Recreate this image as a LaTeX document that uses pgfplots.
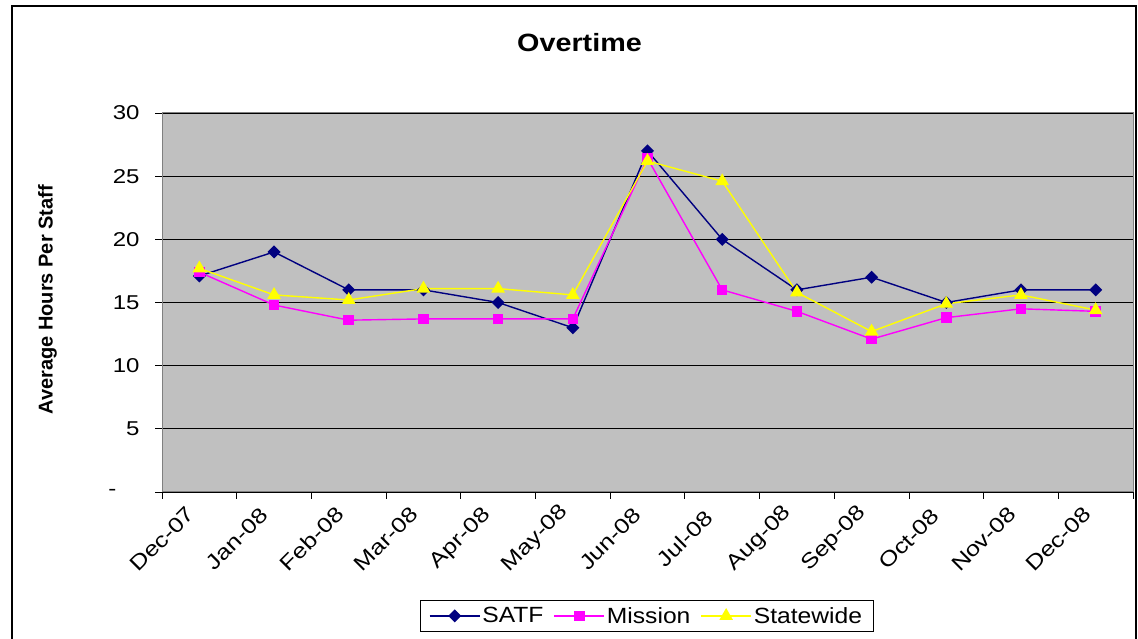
\documentclass[border=0pt]{standalone}
\usepackage{fontspec}
\setmainfont{Liberation Sans}
\newfontfamily\tickfont{Liberation Sans}[FakeStretch=1.2]
\newfontfamily\titlefont{Liberation Sans}[FakeStretch=1.15]
\newfontfamily\legfont{Liberation Sans}[FakeStretch=1.12]
\usepackage{pgfplots}
\pgfplotsset{compat=1.18}
\definecolor{satf}{HTML}{000080}
\definecolor{mission}{HTML}{FF00FF}
\definecolor{statew}{HTML}{FFFF00}
\definecolor{plotbg}{HTML}{C0C0C0}
\definecolor{frameg}{HTML}{808080}
\begin{document}
\begin{tikzpicture}
\useasboundingbox (0,0) rectangle (1138pt,639pt);
\draw[line width=1.2pt] (12pt,-2pt) -- (12pt,633pt) -- (1136pt,633pt) -- (1136pt,-2pt);
\begin{axis}[
  at={(162pt,147pt)}, anchor=south west,
  scale only axis, width=971pt, height=379pt,
  xmin=0, xmax=13, ymin=0, ymax=30,
  xtick={0,1,...,13},
  xticklabels={Dec-07,Jan-08,Feb-08,Mar-08,Apr-08,May-08,Jun-08,Jul-08,Aug-08,Sep-08,Oct-08,Nov-08,Dec-08,{}},
  ytick={0,5,...,30},
  yticklabels={{\makebox[31pt][l]{-}},5,10,15,20,25,30},
  /pgf/number format/assume math mode=true,
  tick align=outside, major tick length=7pt,
  xtick pos=bottom, ytick pos=left,
  tick style={black, line width=0.8pt},
  axis background/.style={fill=plotbg},
  axis line style={frameg, line width=1pt},
  ymajorgrids, major grid style={black, line width=0.8pt},
  ticklabel style={font=\tickfont\fontsize{20}{22}\selectfont},
  xticklabel style={yshift=-40pt, rotate=45, anchor=center, font=\tickfont\fontsize{21}{23}\selectfont},
  yticklabel style={xshift=-12pt},
  title={\bfseries Overtime},
  title style={at={(axis description cs:0.43,1.17)}, anchor=center, font=\titlefont\fontsize{25}{27}\selectfont},
  ylabel={\bfseries Average Hours Per Staff},
  ylabel style={at={(axis description cs:-0.118,0.507)}, anchor=center, font=\fontsize{20}{22}\selectfont},
  legend style={at={(axis description cs:0.499,-0.327)}, anchor=center, legend columns=3,
    draw=black, line width=0.8pt, fill=white, font=\legfont\fontsize{22}{24}\selectfont,
    /tikz/every even column/.append style={column sep=8pt}, inner ysep=5pt, inner xsep=9pt},
  legend image code/.code={\draw[mark repeat=2,mark phase=2,#1] plot coordinates {(0pt,0pt) (25pt,0pt) (50pt,0pt)};},
]
\addplot[satf, line width=1.4pt, mark=square*, mark size=3.9pt, mark options={rotate=45, solid}] coordinates {
(0.5,17.1) (1.5,19.0) (2.5,16.0) (3.5,16.0) (4.5,15.0) (5.5,13.0) (6.5,27.0) (7.5,20.0) (8.5,16.0) (9.5,17.0) (10.5,15.0) (11.5,16.0) (12.5,16.0)};
\addlegendentry{SATF}
\addplot[mission, line width=1.4pt, mark=square*, mark size=4.6pt] coordinates {
(0.5,17.4) (1.5,14.8) (2.5,13.6) (3.5,13.7) (4.5,13.7) (5.5,13.7) (6.5,26.4) (7.5,16.0) (8.5,14.3) (9.5,12.1) (10.5,13.8) (11.5,14.5) (12.5,14.3)};
\addlegendentry{Mission}
\addplot[statew, line width=1.4pt, mark=triangle*, mark size=6.5pt] coordinates {
(0.5,17.7) (1.5,15.6) (2.5,15.2) (3.5,16.1) (4.5,16.1) (5.5,15.6) (6.5,26.2) (7.5,24.6) (8.5,15.8) (9.5,12.7) (10.5,14.9) (11.5,15.6) (12.5,14.4)};
\addlegendentry{Statewide}
\end{axis}
\end{tikzpicture}
\end{document}
